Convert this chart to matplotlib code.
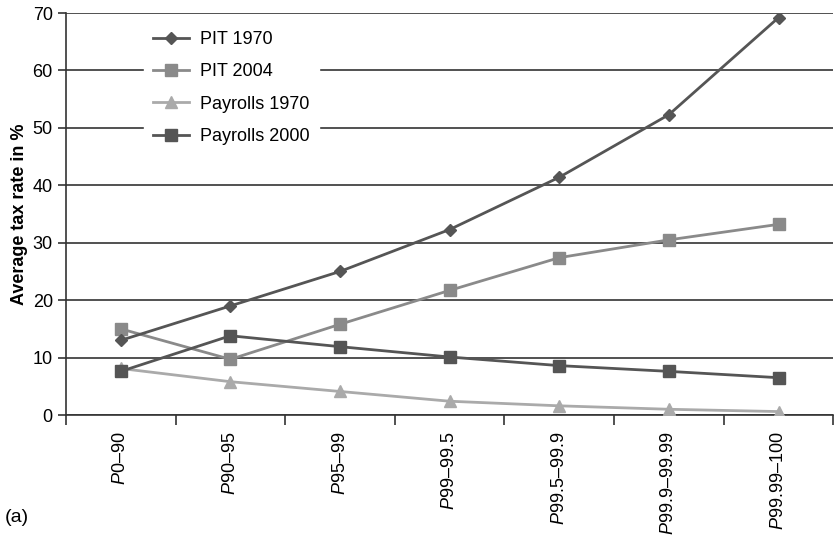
import matplotlib
matplotlib.use("Agg")
import matplotlib.pyplot as plt
import numpy as np

plt.rcParams['font.family'] = ['Liberation Sans', 'DejaVu Sans']
plt.rcParams['mathtext.fontset'] = 'custom'
plt.rcParams['mathtext.it'] = 'Liberation Sans:italic'
plt.rcParams['mathtext.rm'] = 'Liberation Sans'

categories = ["0–90", "90–95", "95–99", "99–99.5", "99.5–99.9", "99.9–99.99", "99.99–100"]
pit_1970 = [13.0, 19.0, 25.0, 32.3, 41.4, 52.3, 69.2]
pit_2004 = [15.0, 9.7, 15.8, 21.7, 27.4, 30.5, 33.2]
payrolls_1970 = [8.1, 5.8, 4.1, 2.4, 1.6, 1.0, 0.6]
payrolls_2000 = [7.6, 13.8, 11.9, 10.1, 8.6, 7.6, 6.5]
yticks = [0, 10, 20, 30, 40, 50, 60, 70]

fig = plt.figure(figsize=(8.35, 5.38), dpi=100)
ax = fig.add_axes([0.079, 0.2286, 0.919, 0.7472])
x = np.arange(len(categories))

ax.plot(x, pit_1970, color='#555555', marker='D', markersize=6, lw=2, label='PIT 1970', zorder=5)
ax.plot(x, pit_2004, color='#8a8a8a', marker='s', markersize=8, lw=2, label='PIT 2004', zorder=4)
ax.plot(x, payrolls_1970, color='#aaaaaa', marker='^', markersize=8, lw=2, label='Payrolls 1970', zorder=4)
ax.plot(x, payrolls_2000, color='#555555', marker='s', markersize=8, lw=2, label='Payrolls 2000', zorder=5)

ax.set_xlim(-0.5, len(categories) - 0.5)
ax.set_ylim(0, 70)
ax.set_yticks(yticks)
ax.yaxis.grid(True, color='#333333', lw=1.2)
ax.set_axisbelow(True)
for s in ['top', 'right']:
    ax.spines[s].set_visible(False)
for s in ['left', 'bottom']:
    ax.spines[s].set_color('#333333')
    ax.spines[s].set_linewidth(1.2)

ax.set_xticks(x)
ax.set_xticklabels([r"$\it{P}$" + c for c in categories], rotation=90, fontsize=13, va='top')
ax.tick_params(axis='x', which='major', length=0, pad=12)
ax.set_xticks(np.arange(-0.5, len(categories)), minor=True)
ax.tick_params(axis='x', which='minor', length=7, width=1.2, color='#333333')
ax.tick_params(axis='y', labelsize=13, length=6, width=1.2, color='#333333')

ax.set_ylabel('Average tax rate in %', fontsize=13, fontweight='bold', labelpad=3)

leg = ax.legend(loc='upper left', bbox_to_anchor=(0.09, 1.0), frameon=True, fontsize=13,
                handlelength=2.0, labelspacing=0.85, borderpad=0.5, handletextpad=0.6)
leg.get_frame().set_facecolor('white')
leg.get_frame().set_edgecolor('white')
leg.get_frame().set_alpha(1)

fig.text(0.006, 0.022, '(a)', fontsize=14, ha='left', va='bottom')

fig.savefig('out.png', dpi=100)
